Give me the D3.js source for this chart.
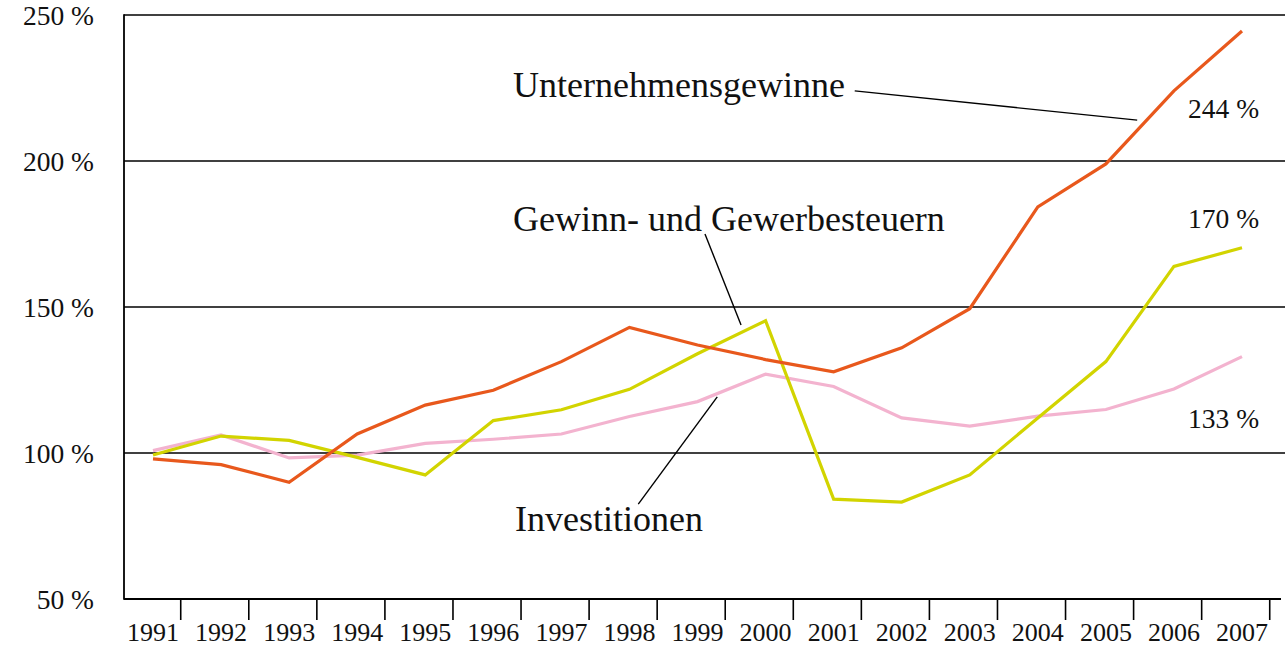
<!DOCTYPE html>
<html>
<head>
<meta charset="utf-8">
<script src="https://cdn.jsdelivr.net/npm/d3@7"></script>
<style>
  html, body { margin: 0; padding: 0; background: #fff; }
  svg { display: block; font-family: 'Liberation Serif', 'DejaVu Serif', serif; }
</style>
</head>
<body>
<svg id="chart" width="1285" height="648"></svg>
<script>
// years on the x axis
const years = [1991, 1992, 1993, 1994, 1995, 1996, 1997, 1998, 1999, 2000,
  2001, 2002, 2003, 2004, 2005, 2006, 2007];

// index values, 1991 = 100 %
const gewinne = [98, 96, 90, 106.5, 116.4, 121.5, 131.3, 143, 137, 132,
  127.8, 136, 149.4, 184.3, 199, 224, 244.5];
const steuern = [99.3, 105.8, 104.3, 98.5, 92.5, 111.1, 114.8, 121.8, 134, 145.3,
  84.2, 83.2, 92.5, 112, 131.3, 163.9, 170.3];
const investitionen = [100.8, 106.2, 98.3, 99.3, 103.3, 104.7, 106.5, 112.5, 117.6, 127,
  122.8, 112, 109.2, 112.6, 114.9, 121.9, 133];

const yTicks = [50, 100, 150, 200, 250];
const endLabels = ['244 %', '170 %', '133 %'];

const colors = { gewinne: '#e8581c', steuern: '#d2d400', investitionen: '#f3b3cf' };

const svg = d3.select('#chart');
const W = 1285;
const plotLeft = 124;
const plotTop = 15;
const plotBottom = 599;

const x = d3.scaleLinear().domain([1991, 2007]).range([153, 1242]);
const y = d3.scaleLinear().domain([50, 250]).range([plotBottom, plotTop]);

// horizontal grid lines
svg.append('g')
  .selectAll('line')
  .data(yTicks.slice(1))
  .enter()
  .append('line')
  .attr('x1', plotLeft)
  .attr('x2', W)
  .attr('y1', (d) => y(d))
  .attr('y2', (d) => y(d))
  .attr('stroke', '#000')
  .attr('stroke-width', 1.6);

// left axis line + bottom axis line
svg.append('line')
  .attr('x1', plotLeft).attr('x2', plotLeft)
  .attr('y1', plotTop - 0.8).attr('y2', plotBottom + 0.8)
  .attr('stroke', '#000').attr('stroke-width', 1.8);
svg.append('line')
  .attr('x1', plotLeft).attr('x2', 1281)
  .attr('y1', plotBottom).attr('y2', plotBottom)
  .attr('stroke', '#000').attr('stroke-width', 1.8);

// y tick labels
svg.append('g')
  .selectAll('text')
  .data(yTicks)
  .enter()
  .append('text')
  .attr('x', 94)
  .attr('y', (d) => y(d) + 10)
  .attr('text-anchor', 'end')
  .attr('font-size', 27.5)
  .attr('fill', '#111')
  .text((d) => `${d} %`);

// x ticks sit a bit right of each year, plus one after the last year
const tickYears = years.concat([2008]).map((d) => d + 0.4);
const xaxis = svg.append('g')
  .attr('transform', `translate(0,${plotBottom})`)
  .call(d3.axisBottom(x).tickValues(tickYears).tickSize(21).tickSizeOuter(0).tickFormat(''));
xaxis.select('.domain').remove();
xaxis.selectAll('line').attr('stroke', '#000').attr('stroke-width', 1.6);

svg.append('g')
  .selectAll('text')
  .data(years)
  .enter()
  .append('text')
  .attr('x', (d) => x(d))
  .attr('y', 641)
  .attr('text-anchor', 'middle')
  .attr('font-size', 26)
  .attr('fill', '#111')
  .text((d) => d);

// lines
const line = d3.line()
  .x((d, i) => x(years[i]))
  .y((d) => y(d));

[['investitionen', investitionen], ['steuern', steuern], ['gewinne', gewinne]].forEach(([key, values]) => {
  svg.append('path')
    .datum(values)
    .attr('fill', 'none')
    .attr('stroke', colors[key])
    .attr('stroke-width', 3.2)
    .attr('d', line);
});

// annotations: label text + leader line in data coordinates
const annotations = [
  { text: 'Unternehmensgewinne', tx: 513, ty: 97, from: [2001.31, 224], to: [2005.46, 214] },
  { text: 'Gewinn- und Gewerbesteuern', tx: 513, ty: 231, from: [1999.11, 175], to: [1999.64, 143.8] },
  { text: 'Investitionen', tx: 515, ty: 531, from: [1998.13, 82.5], to: [1999.29, 119.2] },
];

annotations.forEach((a) => {
  svg.append('text')
    .attr('x', a.tx)
    .attr('y', a.ty)
    .attr('font-size', 36)
    .attr('fill', '#111')
    .text(a.text);
  svg.append('line')
    .attr('x1', x(a.from[0])).attr('y1', y(a.from[1]))
    .attr('x2', x(a.to[0])).attr('y2', y(a.to[1]))
    .attr('stroke', '#000')
    .attr('stroke-width', 1.4);
});

// end value labels
svg.append('g')
  .selectAll('text')
  .data(endLabels)
  .enter()
  .append('text')
  .attr('x', 1188)
  .attr('y', (d, i) => [118, 228, 428][i])
  .attr('font-size', 27.5)
  .attr('fill', '#111')
  .text((d) => d);
</script>
</body>
</html>
